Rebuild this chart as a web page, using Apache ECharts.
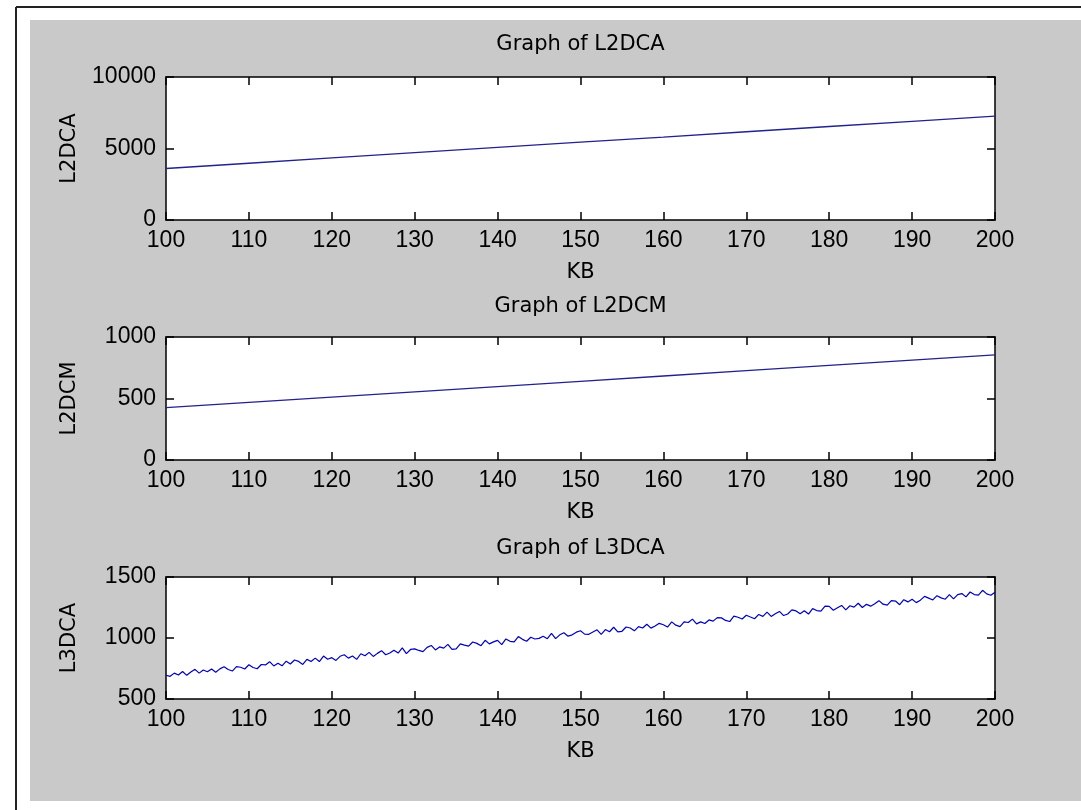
<!DOCTYPE html>
<html>
<head>
<meta charset="utf-8">
<script src="https://cdn.jsdelivr.net/npm/echarts@6/dist/echarts.min.js"></script>
<style>
  html, body { margin: 0; padding: 0; background: #fff; }
  #chart { width: 1081px; height: 810px; }
</style>
</head>
<body>
<div id="chart"></div>
<script>
// --- data ---
const kbTicks = [100, 110, 120, 130, 140, 150, 160, 170, 180, 190, 200];
const l2dca = [3600, 3970, 4340, 4710, 5080, 5440, 5800, 6170, 6540, 6900, 7270];
const l2dcm = [425, 468, 511, 554, 597, 640, 683, 726, 769, 812, 855];

// L3DCA sampled every 0.5 KB from 100 to 200 (noisy trace)
const l3dcaStart = 100;
const l3dcaStep = 0.5;
const l3dca = [
  695, 686, 712, 697, 725, 694, 721, 743, 712, 738,
  723, 746, 720, 747, 765, 742, 729, 765, 760, 746,
  781, 758, 748, 783, 779, 806, 771, 793, 772, 810,
  787, 820, 808, 783, 825, 808, 835, 807, 852, 826,
  839, 816, 850, 863, 835, 852, 825, 871, 854, 882,
  849, 874, 896, 863, 877, 900, 877, 919, 872, 906,
  911, 898, 888, 923, 939, 902, 927, 917, 948, 906,
  911, 952, 942, 933, 967, 956, 937, 981, 952, 968,
  981, 946, 992, 973, 969, 1012, 989, 973, 1006, 992,
  997, 1014, 994, 1037, 995, 1026, 1043, 1015, 1026, 1048,
  1059, 1032, 1030, 1049, 1067, 1030, 1069, 1051, 1088, 1050,
  1055, 1090, 1082, 1059, 1093, 1082, 1113, 1081, 1098, 1120,
  1109, 1090, 1132, 1105, 1093, 1132, 1127, 1155, 1116, 1132,
  1119, 1148, 1138, 1167, 1165, 1144, 1135, 1179, 1170, 1156,
  1187, 1172, 1158, 1193, 1177, 1212, 1177, 1199, 1218, 1184,
  1197, 1230, 1222, 1199, 1223, 1196, 1241, 1225, 1220, 1262,
  1259, 1228, 1248, 1267, 1231, 1264, 1253, 1285, 1250, 1276,
  1261, 1280, 1306, 1277, 1269, 1306, 1303, 1273, 1314, 1296,
  1317, 1290, 1310, 1341, 1327, 1312, 1347, 1329, 1318, 1356,
  1321, 1356, 1364, 1337, 1377, 1356, 1351, 1391, 1362, 1350,
  1375
];

const panels = [
  { title: 'Graph of L2DCA', yName: 'L2DCA', yMin: 0, yMax: 10000, yInt: 5000 },
  { title: 'Graph of L2DCM', yName: 'L2DCM', yMin: 0, yMax: 1000, yInt: 500 },
  { title: 'Graph of L3DCA', yName: 'L3DCA', yMin: 500, yMax: 1500, yInt: 500 }
];

// plot boxes (matlab subplot positions)
const boxes = [
  { top: 77, height: 143, titleY: 45 },
  { top: 337, height: 123, titleY: 307 },
  { top: 577, height: 122, titleY: 549 }
];
const boxLeft = 166, boxWidth = 829;

const tickFont = 'Liberation Sans';
const textFont = 'DejaVu Sans';
const plain = v => String(v);

const grid = [], xAxis = [], yAxis = [], series = [];
boxes.forEach((b, i) => {
  grid.push({
    left: boxLeft, top: b.top, width: boxWidth, height: b.height,
    show: true, backgroundColor: '#fff', borderWidth: 0
  });
  const axLine = { show: true, onZero: false, lineStyle: { color: '#000', width: 1.5 } };
  const tick = { show: true, inside: true, length: 8, lineStyle: { color: '#000', width: 1.5 } };
  // bottom x
  xAxis.push({
    gridIndex: i, type: 'value', min: 100, max: 200, interval: 10, position: 'bottom',
    axisLine: axLine, axisTick: tick, splitLine: { show: false },
    axisLabel: { margin: 9, color: '#000', fontFamily: tickFont, fontSize: 23, formatter: plain },
    name: 'KB', nameLocation: 'middle', nameGap: 42,
    nameTextStyle: { color: '#000', fontFamily: textFont, fontSize: 21 }
  });
  // top x (box + ticks)
  xAxis.push({
    gridIndex: i, type: 'value', min: 100, max: 200, interval: 10, position: 'top',
    axisLine: axLine, axisTick: tick, splitLine: { show: false },
    axisLabel: { show: false }
  });
  const p = panels[i];
  yAxis.push({
    gridIndex: i, type: 'value', min: p.yMin, max: p.yMax, interval: p.yInt, position: 'left',
    axisLine: axLine, axisTick: tick, splitLine: { show: false },
    axisLabel: { margin: 10, color: '#000', fontFamily: tickFont, fontSize: 23, formatter: plain },
    name: p.yName, nameLocation: 'middle', nameGap: 86, nameRotate: 90,
    nameTextStyle: { color: '#000', fontFamily: textFont, fontSize: 21 }
  });
  yAxis.push({
    gridIndex: i, type: 'value', min: p.yMin, max: p.yMax, interval: p.yInt, position: 'right',
    axisLine: axLine, axisTick: tick, splitLine: { show: false },
    axisLabel: { show: false }
  });
});

series.push({
  type: 'line', xAxisIndex: 0, yAxisIndex: 0, showSymbol: false, silent: true,
  data: kbTicks.map((k, j) => [k, l2dca[j]]),
  lineStyle: { color: '#22228a', width: 1.3 }
});
series.push({
  type: 'line', xAxisIndex: 2, yAxisIndex: 2, showSymbol: false, silent: true,
  data: kbTicks.map((k, j) => [k, l2dcm[j]]),
  lineStyle: { color: '#22228a', width: 1.3 }
});
series.push({
  type: 'line', xAxisIndex: 4, yAxisIndex: 4, showSymbol: false, silent: true,
  data: l3dca.map((v, j) => [l3dcaStart + j * l3dcaStep, v]),
  lineStyle: { color: '#0000c0', width: 1.2 }
});

const chart = echarts.init(document.getElementById('chart'));
chart.setOption({
  animation: false,
  backgroundColor: '#fff',
  grid, xAxis, yAxis, series,
  graphic: [
    // figure window gray area
    { type: 'rect', z: -10, shape: { x: 30, y: 20, width: 1051, height: 781 }, style: { fill: '#c9c9c9' } },
    // outer frame lines
    { type: 'line', shape: { x1: 16, y1: 7, x2: 1081, y2: 7 }, style: { stroke: '#222', lineWidth: 2 } },
    { type: 'line', shape: { x1: 16, y1: 7, x2: 16, y2: 810 }, style: { stroke: '#222', lineWidth: 2 } },
    ...boxes.map((b, i) => ({
      type: 'text', x: boxLeft + boxWidth / 2, y: b.titleY,
      style: {
        text: panels[i].title, align: 'center', verticalAlign: 'middle',
        fill: '#000', font: '21px "DejaVu Sans"'
      }
    }))
  ]
});
</script>
</body>
</html>
